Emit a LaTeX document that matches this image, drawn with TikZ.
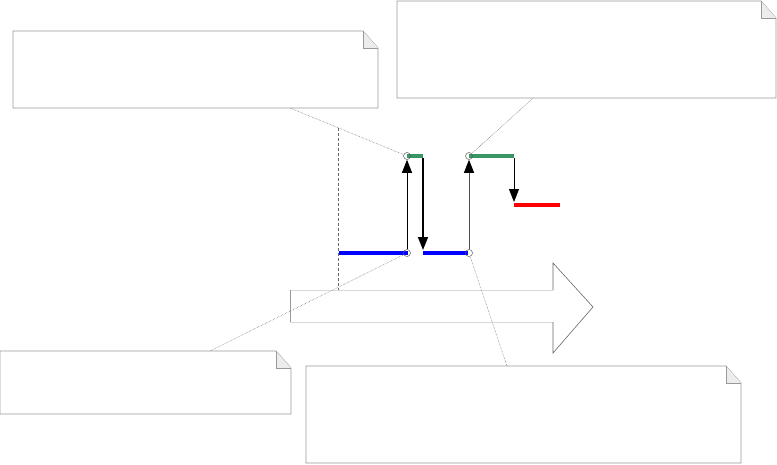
\documentclass[tikz,border=0pt]{standalone}
\usetikzlibrary{arrows.meta}
\definecolor{lvgreen}{RGB}{56,150,100}
\begin{document}
\begin{tikzpicture}[x=1pt,y=-1pt,
  notebox/.style={draw=gray!80, line width=0.8pt, fill=white},
  foldc/.style={draw=gray!80, line width=0.8pt, fill=gray!15},
  callout/.style={densely dotted, gray!80!black, line width=0.5pt},
  lvl/.style={line width=4pt},
  tri/.style={-{Triangle[length=13pt,width=10pt,color=black]}},
  hole/.style={circle, draw=gray!70!black, fill=none, inner sep=0pt, minimum size=7pt, line width=0.5pt}]
\useasboundingbox (0,0) rectangle (777,464);
% note boxes
\newcommand{\notecard}[5]{% name, x1, y1, x2, y2
  \draw[notebox] (#2,#3) -- ({#4-15},#3) -- (#4,{#3+17}) -- (#4,#5) -- (#2,#5) -- cycle;
  \draw[foldc] ({#4-15},#3) -- ({#4-15},{#3+17}) -- (#4,{#3+17});
  \coordinate (#1) at (#2,#3);
}
\notecard{n1}{13}{31}{378}{108}
\notecard{n2}{397}{1}{776}{98}
\notecard{n3}{0}{351}{291}{414}
\notecard{n4}{306}{366}{741}{463}
\coordinate (n1a) at (290,108);
\coordinate (n2a) at (533,98);
\coordinate (n3a) at (210,351);
\coordinate (n4a) at (507,366);
% big arrow
\draw[gray!30, line width=1pt] (290,290) -- (553,290) (290,322) -- (553,322);
\draw[gray!80, line width=0.7pt] (290,290) -- (290,322);
\draw[gray!80!black, line width=0.6pt] (553,290) -- (553,263) -- (593,307) -- (553,353) -- (553,322);
% dashed vertical
\draw[densely dashed, gray!80!black, line width=0.5pt] (338,128) -- (338,290);
% levels
\draw[lvl, blue] (339,253) -- (408,253);
\draw[lvl, blue] (423,253) -- (468,253);
\draw[lvl, lvgreen] (407,156) -- (423,156);
\draw[lvl, lvgreen] (469,156) -- (514,156);
\draw[lvl, red] (514,205) -- (560,205);
% holes
\node[hole] (h1) at (407,156) {};
\node[hole] (h2) at (407,253) {};
\node[hole] (h3) at (469,156) {};
\node[hole] (h4) at (469,253) {};
% arrows
\draw[tri, line width=0.8pt] (h2) -- (h1);
\draw[tri, line width=1.6pt] (423,158) -- (423,250);
\draw[tri, line width=1pt, black!70] (h4) -- (h3);
\draw[tri, line width=0.8pt] (514,158) -- (514,202);
% callouts
\draw[callout] (n1a) -- (h1);
\draw[callout] (n2a) -- (h3);
\draw[callout] (n3a) -- (h2);
\draw[callout] (n4a) -- (h4);
\end{tikzpicture}
\end{document}
